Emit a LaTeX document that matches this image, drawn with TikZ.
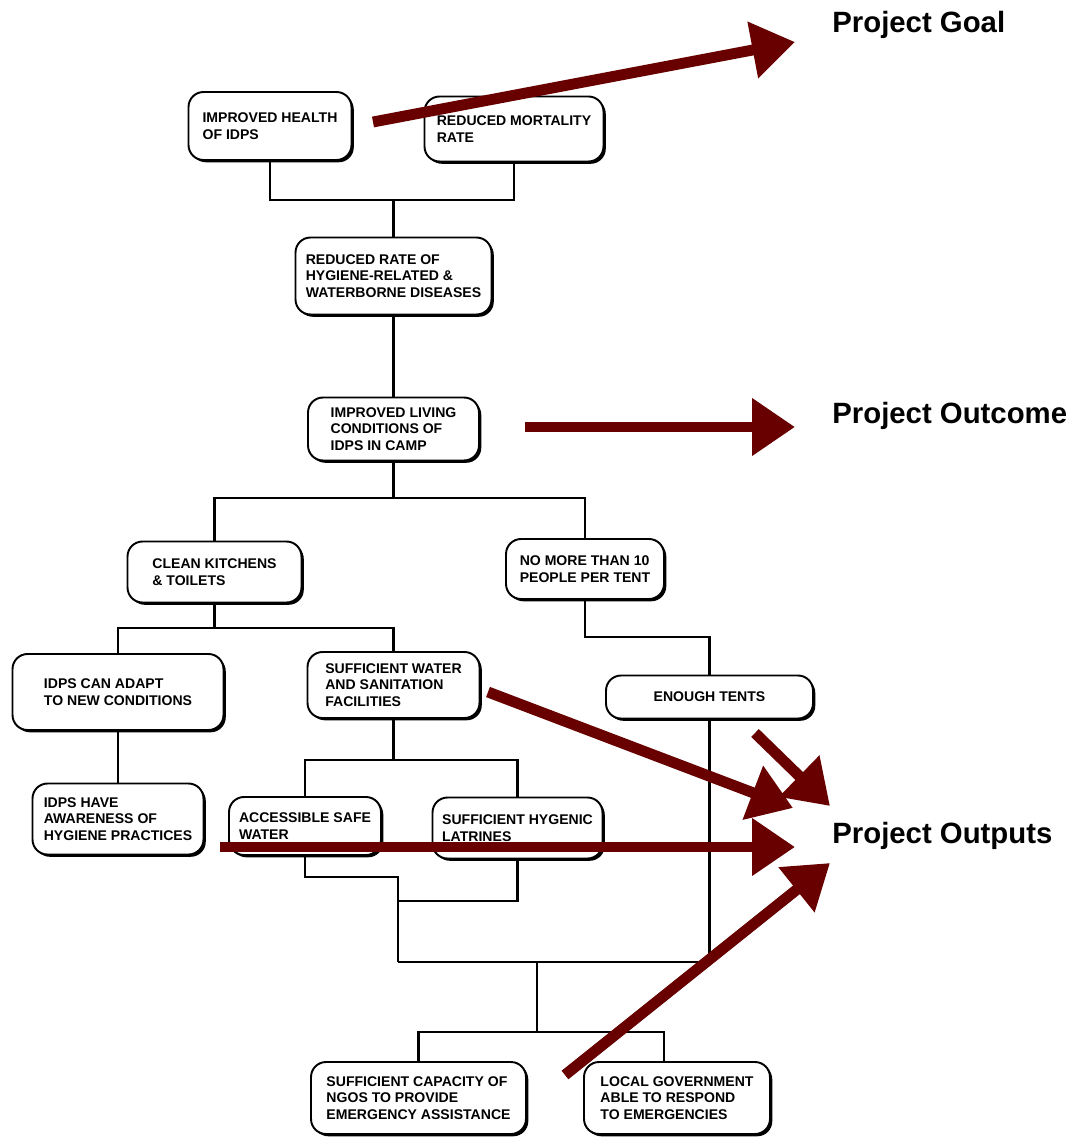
\documentclass[tikz,border=0pt]{standalone}
\usepackage{fontspec}
\usepackage{tikz}
\usetikzlibrary{arrows.meta,shadows}
\newfontfamily\lffam{Liberation Sans}
\definecolor{lfred}{RGB}{104,0,0}
\newcommand{\outcol}{lfred}
\newcommand{\boxfont}{\lffam\bfseries\fontsize{8}{9.4}\selectfont}
\newcommand{\labelfont}{\lffam\bfseries\fontsize{16.7}{20}\selectfont}
\tikzset{
  lfbox/.style={draw, line width=1.1pt, rounded corners=0.3cm, fill=white,
    align=left, font=\boxfont,
    drop shadow={shadow xshift=1.3pt, shadow yshift=-1.3pt, fill=black, opacity=1}},
  lfline/.style={draw=black, line width=1.2pt},
  lfarrow/.style={draw=\outcol, line width=6.2pt,
    -{Triangle[length=0.86cm, width=1.1cm, fill=\outcol]}},
  lflabel/.style={anchor=west, inner sep=0pt, font=\labelfont}
}
\begin{document}
\begin{tikzpicture}[x=0.02cm, y=-0.02cm]

    \useasboundingbox[fill=white] (0, 0) rectangle (1073, 1138);

    % goal and outcome
    \node[lfbox, minimum width=3.26cm, minimum height=1.36cm] (health) at (270, 126) {IMPROVED HEALTH\\OF IDPS};
    \node[lfbox, minimum width=3.58cm, minimum height=1.30cm] (mort) at (514, 129) {REDUCED MORTALITY\\RATE};
    \node[lfbox, minimum width=3.92cm, minimum height=1.54cm] (disease) at (393.5, 276) {REDUCED RATE OF\\HYGIENE-RELATED \&\\WATERBORNE DISEASES};
    \node[lfbox, minimum width=3.42cm, minimum height=1.26cm] (living) at (393.5, 429) {IMPROVED LIVING\\CONDITIONS OF\\IDPS IN CAMP};

    % outputs
    \node[lfbox, minimum width=3.48cm, minimum height=1.22cm] (kitchen) at (214.5, 572) {CLEAN KITCHENS\\\& TOILETS};
    \node[lfbox, minimum width=3.16cm, minimum height=1.20cm] (tent) at (585, 569) {NO MORE THAN 10\\PEOPLE PER TENT};
    \node[lfbox, minimum width=4.22cm, minimum height=1.52cm] (adapt) at (118, 692) {IDPS CAN ADAPT\\TO NEW CONDITIONS};
    \node[lfbox, minimum width=3.44cm, minimum height=1.32cm] (water) at (393.5, 685) {SUFFICIENT WATER\\AND SANITATION\\FACILITIES};
    \node[lfbox, minimum width=4.14cm, minimum height=0.86cm, align=center] (tents) at (709.5, 697) {ENOUGH TENTS};
    \node[lfbox, minimum width=3.42cm, minimum height=1.42cm] (aware) at (118, 819) {IDPS HAVE\\AWARENESS OF\\HYGIENE PRACTICES};
    \node[lfbox, minimum width=3.04cm, minimum height=1.16cm] (safe) at (305, 826) {ACCESSIBLE SAFE\\WATER};
    \node[lfbox, minimum width=3.40cm, minimum height=1.22cm] (latrine) at (517.5, 828) {SUFFICIENT HYGENIC\\LATRINES};
    \node[lfbox, minimum width=4.30cm, minimum height=1.44cm] (ngo) at (418.5, 1098) {SUFFICIENT CAPACITY OF\\NGOS TO PROVIDE\\EMERGENCY ASSISTANCE};
    \node[lfbox, minimum width=3.72cm, minimum height=1.44cm] (gov) at (677, 1098) {LOCAL GOVERNMENT\\ABLE TO RESPOND\\TO EMERGENCIES};

    % tree lines
    \coordinate (j1) at (393.5, 200);
    \coordinate (j2) at (393.5, 498);
    \coordinate (j3) at (214.5, 628);
    \coordinate (j4) at (709.5, 637);
    \coordinate (j5) at (393.5, 760);
    \coordinate (j6) at (398, 877);
    \coordinate (j7) at (398, 962);
    \coordinate (j8) at (398, 901);
    \coordinate (j9) at (537, 962);
    \coordinate (j10) at (537, 1032);
    \coordinate (j11) at (664, 1032);

    \draw[lfline] (health.south) |- (j1) -| (mort.south);
    \draw[lfline] (j1) -- (disease.north);
    \draw[lfline] (disease.south) -- (living.north);
    \draw[lfline] (living.south) -- (j2);
    \draw[lfline] (kitchen.north) |- (j2) -| (tent.north);
    \draw[lfline] (kitchen.south) -- (j3);
    \draw[lfline] (adapt.north) |- (j3) -| (water.north);
    \draw[lfline] (tent.south) |- (j4) -- (tents.north);
    \draw[lfline] (adapt.south) -- (aware.north);
    \draw[lfline] (water.south) -- (j5);
    \draw[lfline] (safe.north) |- (j5) -| (latrine.north);
    \draw[lfline] (safe.south) |- (j6) -- (j7);
    \draw[lfline] (latrine.south) |- (j8);
    \draw[lfline] (j7) -| (tents.south);
    \draw[lfline] (j9) -- (j10);
    \draw[lfline] (ngo.north) |- (j10) -- (j11) -- (j11 |- gov.north);

    % labels
    \node[lflabel] (goal) at (832, 25) {Project Goal};
    \node[lflabel] (outcome) at (832, 416) {Project Outcome};
    \node[lflabel] (outputs) at (832, 836) {Project Outputs};

    % red arrows
    \coordinate (a1) at (373, 122);
    \coordinate (a2) at (795, 42);
    \coordinate (b1) at (525, 427);
    \coordinate (b2) at (795, 427);
    \coordinate (c1) at (488, 692);
    \coordinate (c2) at (793, 808);
    \coordinate (d1) at (755, 733);
    \coordinate (d2) at (830, 806);
    \coordinate (e1) at (220, 847);
    \coordinate (e2) at (795, 847);
    \coordinate (f1) at (565, 1075);
    \coordinate (f2) at (830, 863);

    \draw[lfarrow] (a1) -- (a2);
    \draw[lfarrow] (b1) -- (b2);
    \draw[lfarrow] (c1) -- (c2);
    \draw[lfarrow] (d1) -- (d2);
    \draw[lfarrow] (e1) -- (e2);
    \draw[lfarrow] (f1) -- (f2);

\end{tikzpicture}
\end{document}
